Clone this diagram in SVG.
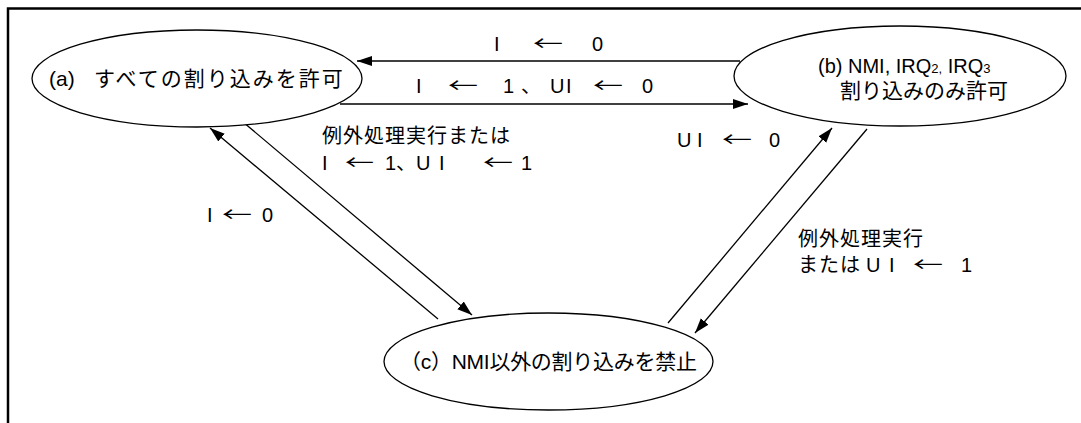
<svg xmlns="http://www.w3.org/2000/svg" width="1081" height="423" viewBox="0 0 1081 423">
<style>
  .frame { fill: none; stroke: #000; stroke-width: 2.5; }
  .node { fill: #fff; stroke: #000; stroke-width: 1.3; }
  .edge { fill: none; stroke: #000; stroke-width: 1.3; }
  text { font-family: "Liberation Sans", "Noto Sans CJK JP", sans-serif; fill: #000; }
  .nt { font-size: 21px; }
  .lb { font-size: 20px; }
  .sub { font-size: 13px; }
  .ar { font-family: "Noto Sans CJK JP", sans-serif; }
</style>
<defs>
  <marker id="ah" markerUnits="userSpaceOnUse" markerWidth="16" markerHeight="12" refX="15" refY="5" orient="auto">
    <path d="M0,0 L15,5 L0,10 z" fill="#000"/>
  </marker>
</defs>
<rect width="1081" height="423" fill="#fff"/>
<path class="frame" d="M6.8,8.5 H1081 M8,8 V423"/>

<g id="connectors">
  <line class="edge" x1="740" y1="61" x2="357" y2="61" marker-end="url(#ah)"/>
  <line class="edge" x1="340" y1="104" x2="748" y2="104" marker-end="url(#ah)"/>
  <line class="edge" x1="438" y1="319" x2="210" y2="128" marker-end="url(#ah)"/>
  <line class="edge" x1="243" y1="122" x2="472" y2="315" marker-end="url(#ah)"/>
  <line class="edge" x1="668" y1="323" x2="832" y2="128" marker-end="url(#ah)"/>
  <line class="edge" x1="867" y1="129" x2="695" y2="333" marker-end="url(#ah)"/>
</g>

<g id="labels">
  <text class="lb" y="51"><tspan x="494">I</tspan><tspan class="ar" x="533" textLength="30" lengthAdjust="spacingAndGlyphs">←</tspan><tspan x="592">0</tspan></text>
  <text class="lb" y="93"><tspan x="416">I</tspan><tspan class="ar" x="448" textLength="30" lengthAdjust="spacingAndGlyphs">←</tspan><tspan x="503">1</tspan><tspan x="521">、</tspan><tspan x="550">U</tspan><tspan x="566">I</tspan><tspan class="ar" x="593" textLength="30" lengthAdjust="spacingAndGlyphs">←</tspan><tspan x="642">0</tspan></text>
  <text class="lb" x="322" y="143" letter-spacing="1">例外処理実行または</text>
  <text class="lb" y="170"><tspan x="322">I</tspan><tspan class="ar" x="345" textLength="29" lengthAdjust="spacingAndGlyphs">←</tspan><tspan x="385">1</tspan><tspan x="396">、</tspan><tspan x="416">U</tspan><tspan x="439">I</tspan><tspan class="ar" x="483" textLength="30" lengthAdjust="spacingAndGlyphs">←</tspan><tspan x="521">1</tspan></text>
  <text class="lb" y="222"><tspan x="207">I</tspan><tspan class="ar" x="222" textLength="30" lengthAdjust="spacingAndGlyphs">←</tspan><tspan x="262">0</tspan></text>
  <text class="lb" y="147"><tspan x="677">U</tspan><tspan x="697">I</tspan><tspan class="ar" x="722" textLength="30" lengthAdjust="spacingAndGlyphs">←</tspan><tspan x="769">0</tspan></text>
  <text class="lb" x="798" y="246" letter-spacing="1">例外処理実行</text>
  <text class="lb" y="272"><tspan x="798" letter-spacing="1">または</tspan><tspan x="866">U</tspan><tspan x="889">I</tspan><tspan class="ar" x="913" textLength="30" lengthAdjust="spacingAndGlyphs">←</tspan><tspan x="961">1</tspan></text>
</g>

<g id="node-a">
  <ellipse class="node" cx="197" cy="78.5" rx="165" ry="48.5"/>
  <text class="nt" y="86"><tspan x="49">(a)</tspan><tspan x="94" letter-spacing="2">すべての割り込みを許可</tspan></text>
</g>
<g id="node-b">
  <ellipse class="node" cx="900" cy="76" rx="166" ry="50"/>
  <text class="lb" x="818" y="73">(b) NMI, IRQ<tspan class="sub">2,</tspan> IRQ<tspan class="sub">3</tspan></text>
  <text class="nt" x="840" y="98">割り込みのみ許可</text>
</g>
<g id="node-c">
  <ellipse class="node" cx="548.5" cy="361.5" rx="164.5" ry="48.5"/>
  <text class="nt" x="400" y="369" textLength="297" lengthAdjust="spacing">（c）NMI以外の割り込みを禁止</text>
</g>
</svg>
